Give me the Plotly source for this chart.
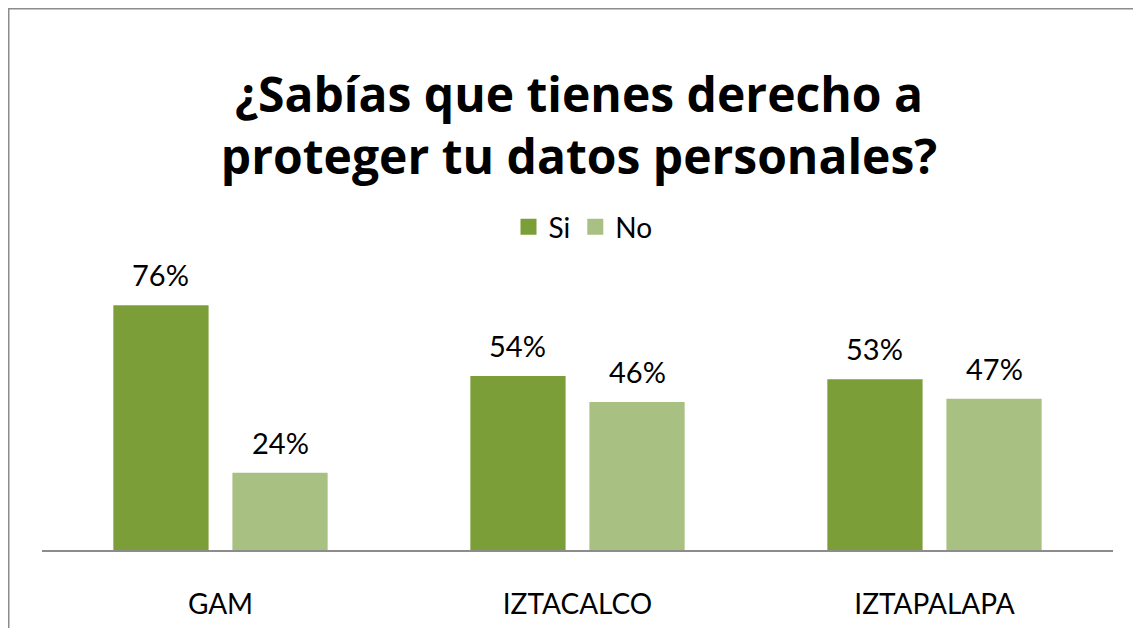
import plotly.graph_objects as go

categories = ["GAM", "IZTACALCO", "IZTAPALAPA"]
si_values = [0.76, 0.54, 0.53]
no_values = [0.24, 0.46, 0.47]
series_names = ["Si", "No"]
title_text = "¿Sabías que tienes derecho a<br>proteger tu datos personales?"

# figure sits inside the page body (8px default margin)
W, H = 1133, 620
ML, MR, MT, MB = 34, 28, 242, 78
plot_h = H - MT - MB
plot_w = W - ML - MR
px_per_unit = 322.0
ymax = plot_h / px_per_unit

BARGAP, GROUPGAP = 0.333, 0.2
cat_w = plot_w / len(categories)
slot = cat_w * (1 - BARGAP) / 2
label_shift = slot / 2

si_color = "#7c9e38"
no_color = "#a8c182"
FONT = "Lato"

fig = go.Figure()
for name, vals, col in ((series_names[0], si_values, si_color), (series_names[1], no_values, no_color)):
    fig.add_trace(go.Bar(name=name, x=categories, y=vals, showlegend=False,
                         marker=dict(color=col, line=dict(width=0))))
for name, col in ((series_names[0], si_color), (series_names[1], no_color)):
    fig.add_trace(go.Scatter(name=name, x=[None], y=[None], mode="markers",
                             marker=dict(symbol="square", size=18, color=col, line=dict(width=0))))

annotations = []
for vals, shift in ((si_values, -label_shift), (no_values, label_shift)):
    for c, v in zip(categories, vals):
        annotations.append(dict(x=c, y=v, xref="x", yref="y", text=f"{round(v*100)}%",
                                showarrow=False, xshift=shift, yshift=11, yanchor="bottom",
                                font=dict(family=FONT, size=29, color="#000000")))

fx = lambda p: (p - ML) / plot_w
fy = lambda p: (H - MB - p) / plot_h

fig.update_layout(
    width=W, height=H,
    margin=dict(l=ML, r=MR, t=MT, b=MB, autoexpand=False),
    paper_bgcolor="white", plot_bgcolor="white",
    barmode="group", bargap=BARGAP, bargroupgap=GROUPGAP,
    title=dict(text=title_text, x=fx(571), xref="paper", xanchor="center",
               y=1 - 104 / H, yref="container", yanchor="middle",
               font=dict(family="Open Sans", size=48, color="#000000", weight="bold")),
    legend=dict(orientation="h", x=fx(575), xanchor="center", y=fy(219), yanchor="middle",
                font=dict(family=FONT, size=28, color="#000000"), itemwidth=30,
                bgcolor="rgba(0,0,0,0)"),
    xaxis=dict(showline=True, linecolor="#8c8c8c", linewidth=2, showgrid=False,
               ticks="", tickfont=dict(family=FONT, size=28, color="#000000"),
               ticklabelstandoff=28, fixedrange=True),
    yaxis=dict(range=[0, ymax], visible=False, showgrid=False, zeroline=False),
    annotations=annotations,
    shapes=[dict(type="rect", xref="paper", yref="paper",
                 x0=fx(0.75), x1=fx(W + 20), y0=fy(H + 20), y1=fy(0.75),
                 line=dict(color="#8c8c8c", width=1.5), fillcolor="rgba(0,0,0,0)", layer="below")],
    showlegend=True,
)

fig.write_html("out.html")
